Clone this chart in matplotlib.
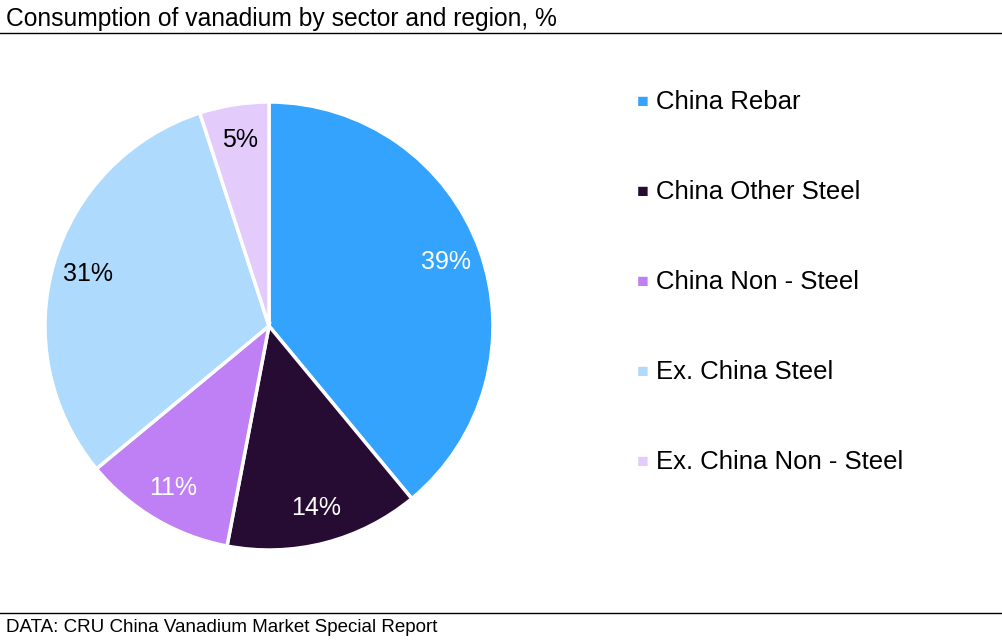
import matplotlib
matplotlib.use("Agg")
import matplotlib.pyplot as plt
from matplotlib.lines import Line2D

plt.rcParams['font.family'] = ['Liberation Sans', 'DejaVu Sans']

# Données
sectors = ['China Rebar', 'China Other Steel', 'China Non - Steel',
           'Ex. China Steel', 'Ex. China Non - Steel']
shares = [39, 14, 11, 31, 5]
colors = ['#33A3FD', '#260C33', '#C080F5', '#ADDAFD', '#E3CCFC']
label_colors = ['white', 'white', 'white', 'black', 'black']

W, H = 1002, 644
fig = plt.figure(figsize=(W / 100, H / 100), dpi=100)

# Titre et lignes
fig.text(6 / W, 1 - 19 / H, 'Consumption of vanadium by sector and region, %',
         fontsize=17.7, va='center', ha='left')
fig.add_artist(Line2D([0, 1], [1 - 33 / H, 1 - 33 / H], color='black', lw=1))
fig.add_artist(Line2D([0, 1], [1 - 613 / H, 1 - 613 / H], color='black', lw=1))
fig.text(6 / W, 1 - 628 / H, 'DATA: CRU China Vanadium Market Special Report',
         fontsize=13.5, va='center', ha='left')

# Camembert
cx, cy, r = 269, 326, 224
ax = fig.add_axes([(cx - r) / W, (H - cy - r) / H, 2 * r / W, 2 * r / H])
wedges, texts = ax.pie(shares, colors=colors, startangle=90, counterclock=False,
                       labels=[f'{v}%' for v in shares], labeldistance=0.84,
                       wedgeprops=dict(edgecolor='white', linewidth=2.5),
                       textprops=dict(fontsize=18))
for t, c in zip(texts, label_colors):
    t.set_color(c)
    t.set_ha('center')
    t.set_va('center')
ax.set_xlim(-1, 1)
ax.set_ylim(-1, 1)
ax.set_aspect('equal')
ax.axis('off')

# Légende
for i, (name, c) in enumerate(zip(sectors, colors)):
    y = 1 - (102 + 90 * i) / H
    fig.text(643 / W, y, '\u25A0', color=c, fontsize=14, ha='center', va='center')
    fig.text(656 / W, y, name, fontsize=18.5, ha='left', va='center')

fig.savefig('out.png', dpi=100)
